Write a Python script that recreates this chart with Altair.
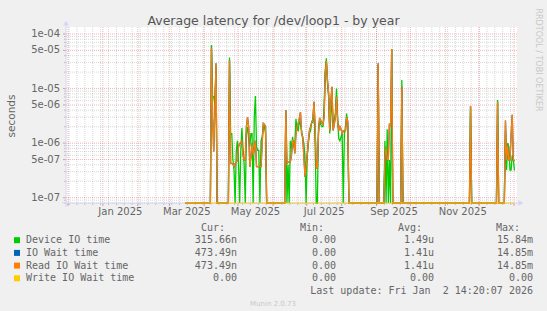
import altair as alt
import pandas as pd

# ---------------- data ----------------
BASE = "2024-11-30T10:00:00"        # day 0 of the day offsets below
FIRST_DAY, LAST_DAY = 105, 397      # days with samples (zero unless listed)

days = [128, 129, 130, 131, 132,
        144, 145, 146, 147, 148, 149, 150, 151, 152, 153, 154, 155, 156, 157, 158,
        159, 160, 161, 162, 163, 164, 165, 166, 167, 168, 169, 170, 171, 172, 173,
        174, 175, 176,
        194, 195, 196, 197, 198, 199, 200, 201, 202, 203, 204, 205, 206, 207, 208,
        209, 210, 211, 212, 213, 214, 215, 216, 217, 218, 219, 220, 221, 222, 223,
        224, 225, 226, 227, 228, 229, 230, 231, 232, 233, 234, 235, 236, 237, 238,
        239, 240, 241, 242, 243, 244, 245, 246, 247, 248, 249,
        276, 282, 283, 284, 285, 286, 287, 288, 297, 358, 382,
        389, 390, 391, 392, 393, 394, 395, 396, 397]

device_io = [6.3e-5, 7.1e-6, 7.1e-6, 5.0e-6, 2.5e-5,
             3.7e-5, 1.5e-6, 1.5e-6, 5.0e-7, 3.2e-7, 0, 7.0e-7, 1.1e-6, 4.2e-7, 0,
             7.0e-7, 1.9e-6, 8.0e-7, 4.0e-7, 0, 1.5e-6, 2.0e-6, 1.2e-6, 8.6e-7, 1.5e-6,
             1.5e-6, 0, 3.0e-6, 7.3e-6, 8.6e-7, 7.4e-7, 7.4e-7, 0, 1.1e-6, 1.3e-6,
             2.0e-6, 2.0e-6, 1.5e-6,
             4.0e-6, 0, 4.0e-7, 0, 1.1e-6, 8.0e-7, 1.3e-6, 9.0e-7, 1.0e-6, 2.8e-6,
             1.8e-6, 1.7e-6, 2.5e-6, 2.2e-6, 1.7e-6, 1.2e-6, 1.0e-6, 5.6e-7, 0, 6.0e-7,
             9.9e-7, 1.5e-6, 1.7e-6, 2.5e-6, 2.4e-6, 5.3e-6, 1.0e-6, 0, 0, 2.0e-6,
             2.6e-6, 2.2e-6, 2.0e-6, 2.0e-6, 5.0e-6, 2.2e-5, 3.6e-5, 1.2e-5, 7.0e-6,
             1.5e-6, 3.0e-6, 7.0e-6, 2.0e-6, 2.5e-6, 3.5e-6, 1.0e-5, 3.0e-6, 1.2e-6,
             1.1e-6, 1.3e-6, 1.5e-6, 0, 1.5e-6, 2.0e-6, 3.5e-6, 2.0e-6,
             2.7e-5, 1.1e-6, 0, 1.8e-6, 0, 4.9e-7, 0, 5.3e-5, 1.43e-5, 4.6e-6, 6.2e-6,
             1.7e-6, 3.2e-7, 1.0e-6, 8.6e-7, 3.2e-7, 3.2e-7, 6.0e-7, 4.9e-7, 3.1566e-7]

read_io_wait = [5.6e-5, 3.0e-6, 7.0e-7, 4.0e-6, 2.9e-5,
                3.3e-5, 4.3e-7, 4.2e-7, 4.2e-7, 3.7e-7, 4.2e-7, 4.5e-7, 4.9e-7, 8.6e-7, 9.9e-7,
                1.0e-6, 1.1e-6, 6.0e-7, 4.9e-7, 4.9e-7, 2.0e-6, 3.0e-6, 2.0e-6, 3.7e-7, 5.6e-7,
                1.0e-6, 6.0e-7, 8.0e-7, 1.1e-6, 3.7e-7, 3.7e-7, 3.7e-7, 3.7e-7, 3.7e-7, 1.0e-6,
                2.3e-6, 2.2e-6, 2.0e-6,
                4.0e-6, 4.2e-7, 4.5e-7, 4.5e-7, 4.5e-7, 6.0e-7, 1.1e-6, 1.0e-6, 6.5e-7, 1.5e-6,
                2.0e-6, 2.3e-6, 2.8e-6, 3.7e-6, 1.5e-6, 1.3e-6, 6.0e-7, 2.4e-7, 3.7e-7, 6.0e-7,
                1.1e-6, 1.7e-6, 2.0e-6, 2.4e-6, 2.6e-6, 5.7e-6, 2.0e-6, 3.5e-7, 3.5e-7, 1.5e-6,
                2.9e-6, 2.6e-6, 2.3e-6, 2.2e-6, 3.0e-6, 1.9e-5, 3.2e-5, 1.4e-5, 8.1e-6,
                1.7e-6, 6.0e-6, 1.08e-5, 1.7e-6, 2.2e-6, 3.0e-6, 7.1e-6, 2.5e-6, 1.7e-6,
                2.0e-6, 1.8e-6, 1.5e-6, 1.7e-6, 1.7e-6, 1.7e-6, 3.0e-6, 2.5e-6,
                2.9e-5, 5.6e-7, 8.6e-7, 5.0e-7, 4.9e-7, 2.3e-6, 2.0e-6, 5.3e-5, 1.08e-5, 4.8e-6, 5.7e-6,
                2.6e-6, 4.9e-7, 9.0e-7, 4.9e-7, 4.9e-7, 1.4e-6, 3.3e-6, 4.9e-7, 4.7349e-7]

series_names = ["Device IO time", "IO Wait time", "Read IO Wait time", "Write IO Wait time"]
series_colors = ["#00CC00", "#0066B3", "#FF8000", "#FFCC00"]
NB = "\u00a0"
cur_vals = ["315.66n", "473.49n", "473.49n", "0.00" + NB]
min_vals = ["0.00" + NB, "0.00" + NB, "0.00" + NB, "0.00" + NB]
avg_vals = ["1.49u", "1.41u", "1.41u", "0.00" + NB]
max_vals = ["15.84m", "14.85m", "14.85m", "0.00" + NB]

ytick_vals = [1e-4, 5e-5, 1e-5, 5e-6, 1e-6, 5e-7, 1e-7]
ytick_labels = ["1e-04", "5e-05", "1e-05", "5e-06", "1e-06", "5e-07", "1e-07"]
xlabel_months = ["2025-01-01", "2025-03-01", "2025-05-01", "2025-07-01", "2025-09-01", "2025-11-01"]
xlabel_texts = ["Jan 2025", "Mar 2025", "May 2025", "Jul 2025", "Sep 2025", "Nov 2025"]

TITLE = "Average latency for /dev/loop1 - by year"
LAST_UPDATE = "Last update: Fri Jan " + NB + "2 14:20:07 2026"

# ---------------- layout ----------------
W, H = 451, 176
PL, PT = 66, 27
TW, TH = 547, 311
FONT = "DejaVu Sans"
MONO = "DejaVu Sans Mono"
TXT = "#666666"

xs = alt.Scale(domain=[alt.DateTime(year=2024, month=11, date=29, hours=6),
                       alt.DateTime(year=2026, month=1, date=3, hours=16)], nice=False)
ys = alt.Scale(type="log", domain=[8.0e-8, 1.3434e-4], clamp=True, nice=False)

# ---------------- build tables ----------------
base = pd.Timestamp(BASE)
gmap = dict(zip(days, device_io))
omap = dict(zip(days, read_io_wait))
rows = []
for d in range(FIRST_DAY, LAST_DAY + 1):
    t = base + pd.Timedelta(days=d)
    gv = gmap.get(d, 0.0)
    ov = omap.get(d, 0.0)
    for name, v in zip(series_names, [gv, ov, ov, 0.0]):
        rows.append((t, name, v))
df = pd.DataFrame(rows, columns=["date", "series", "value"])
df["plot"] = df["value"].clip(lower=1e-9)

hmajor = ytick_vals
hminor = []
for e in range(-8, -3):
    for k in range(1, 10):
        v = k * 10.0 ** e
        if k not in (1, 5) and 8.0e-8 <= v <= 1.3434e-4:
            hminor.append(v)
months = pd.date_range("2024-12-01", "2026-01-01", freq="MS")
weeks = pd.date_range("2024-12-02", "2026-01-03", freq="W-MON")

layers = []

def hrule(vals, color, op, x1=0, x2=W, dash=True):
    m = alt.Chart(pd.DataFrame({"v": vals})).mark_rule(
        color=color, opacity=op, strokeWidth=1, **({"strokeDash": [1, 1]} if dash else {}))
    return m.encode(y=alt.Y("v:Q", scale=ys, axis=None), x=alt.value(x1), x2=alt.value(x2))

def vrule(vals, color, op, y1=0, y2=H, dash=True):
    m = alt.Chart(pd.DataFrame({"t": vals})).mark_rule(
        color=color, opacity=op, strokeWidth=1, **({"strokeDash": [1, 1]} if dash else {}))
    return m.encode(x=alt.X("t:T", scale=xs, axis=None), y=alt.value(y1), y2=alt.value(y2))

GRID = "#8f8f8f"
MGRID = "#de4f4f"
layers += [hrule(hminor, GRID, 0.35), vrule(weeks, GRID, 0.35),
           hrule(hmajor, MGRID, 0.42), vrule(months, MGRID, 0.42)]
layers += [hrule(hminor, GRID, 0.5, -2, 0, False), hrule(hmajor, MGRID, 0.55, -3, 0, False),
           vrule(weeks, GRID, 0.5, H, H + 2, False), vrule(months, MGRID, 0.55, H, H + 3, False)]

# axes with arrows
AX = "#CFD6F8"
layers.append(alt.Chart(pd.DataFrame({"a": [0]})).mark_rule(color=AX, strokeWidth=1).encode(
    x=alt.value(-4), x2=alt.value(W + 2), y=alt.value(H)))
layers.append(alt.Chart(pd.DataFrame({"a": [0]})).mark_rule(color=AX, strokeWidth=1).encode(
    y=alt.value(H + 4), y2=alt.value(-2), x=alt.value(0)))
layers.append(alt.Chart(pd.DataFrame({"a": [0]})).mark_point(
    shape="triangle-right", filled=True, color=AX, size=30, opacity=1).encode(
    x=alt.value(W + 4), y=alt.value(H)))
layers.append(alt.Chart(pd.DataFrame({"a": [0]})).mark_point(
    shape="triangle-up", filled=True, color=AX, size=30, opacity=1).encode(
    x=alt.value(0), y=alt.value(-4)))

# data lines
line_opacity = [1, 1, 1, 0.55]
for name, color, op in zip(series_names, series_colors, line_opacity):
    sub = df[df["series"] == name]
    layers.append(alt.Chart(sub).mark_line(color=color, strokeWidth=1.3, opacity=op, clip=False).encode(
        x=alt.X("date:T", scale=xs, axis=None),
        y=alt.Y("plot:Q", scale=ys, axis=None)))

# y tick labels
layers.append(alt.Chart(pd.DataFrame({"v": ytick_vals, "t": ytick_labels})).mark_text(
    align="right", baseline="middle", font=FONT, fontSize=10, color=TXT).encode(
    y=alt.Y("v:Q", scale=ys, axis=None), x=alt.value(-6), text="t:N"))

# x labels (centred mid-month)
xl_dates = [pd.Timestamp(m) + pd.Timedelta(hours=372) for m in xlabel_months]
layers.append(alt.Chart(pd.DataFrame({"t": xl_dates, "s": xlabel_texts})).mark_text(
    align="center", baseline="middle", font=FONT, fontSize=10, color=TXT).encode(
    x=alt.X("t:T", scale=xs, axis=None), y=alt.value(211.7 - PT), text="s:N"))

def txt(s, x, y, align="left", font=FONT, size=10, color=TXT, angle=0):
    kw = dict(align=align, baseline="middle", font=font, fontSize=size, color=color)
    if angle:
        kw["angle"] = angle
    return alt.Chart(pd.DataFrame({"s": [s]})).mark_text(**kw).encode(
        text="s:N", x=alt.value(x - PL), y=alt.value(y - PT))

layers.append(txt(TITLE, 273.5, 20.5, align="center", size=12.5, color="#555555"))
layers.append(txt("seconds", 12, 116, align="center", size=10.5, angle=270))
layers.append(txt("RRDTOOL / TOBI OETIKER", 538, 60, align="center", size=8, color="#c8c8c8", angle=90))

# legend
row_y = [240.2, 252.9, 265.6, 278.3]
hdr_y = 227.6
for h, xr in zip(["Cur:", "Min:", "Avg:", "Max:"], [225, 324, 422, 520]):
    layers.append(txt(h, xr, hdr_y, align="right", font=MONO))
for i, name in enumerate(series_names):
    yy = row_y[i]
    layers.append(alt.Chart(pd.DataFrame({"a": [0]})).mark_rect(color=series_colors[i]).encode(
        x=alt.value(14 - PL), x2=alt.value(20 - PL), y=alt.value(yy - 3 - PT), y2=alt.value(yy + 3 - PT)))
    layers.append(txt(name, 26, yy, font=MONO))
    for vals, xr in zip([cur_vals, min_vals, avg_vals, max_vals], [237, 336, 434, 533]):
        layers.append(txt(vals[i], xr, yy, align="right", font=MONO))
layers.append(txt(LAST_UPDATE, 533, 290.8, align="right", font=MONO))
layers.append(txt("Munin 2.0.73", 273, 303.7, align="center", size=7, color="#c8c8c8"))

chart = alt.layer(*layers).properties(
    width=W, height=H,
    autosize=alt.AutoSizeParams(type="none"),
    padding={"left": PL, "top": PT, "right": TW - PL - W, "bottom": TH - PT - H},
    background="#F0F0F0",
).configure_view(fill="white", stroke=None)

chart.save("out.html", embed_options={"renderer": "svg", "actions": False})
